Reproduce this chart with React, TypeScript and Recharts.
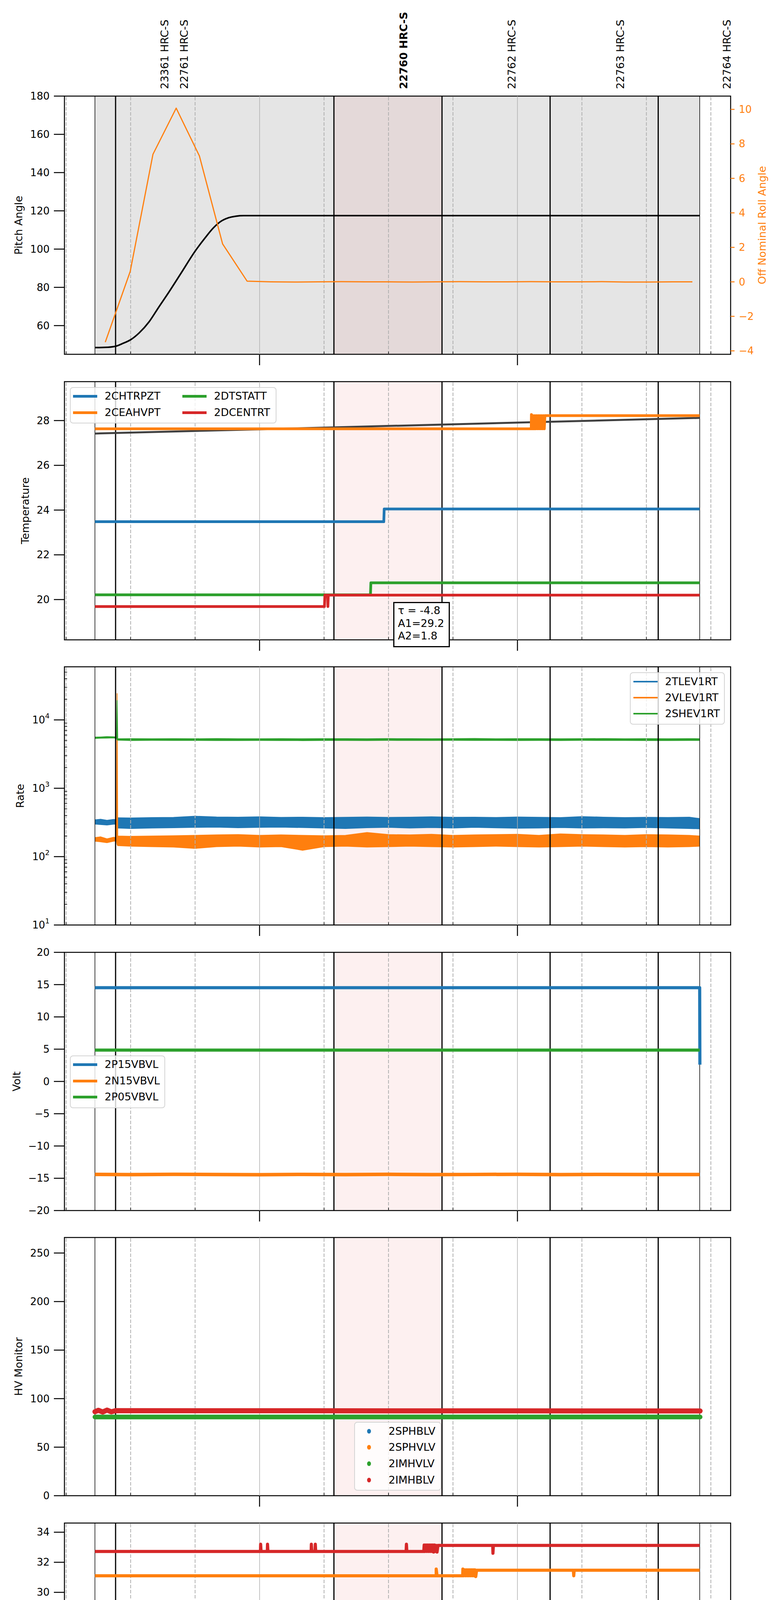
import React from 'react'
import {
  ComposedChart,
  Line,
  Area,
  XAxis,
  YAxis,
  ReferenceArea,
  ReferenceLine
} from 'recharts'

const FONT = '"DejaVu Sans", sans-serif'
const BLUE = '#1f77b4'
const ORANGE = '#ff7f0e'
const GREEN = '#2ca02c'
const RED = '#d62728'

type Pt = { t: number; v: number }
const pts = (rows: number[][]): Pt[] => rows.map(([t, v]) => ({ t, v }))

// time axis: minutes after 19:00 on 2020-11-03
const timeDomain = [14.6, 169.6]
const timeTicks = [15, 30, 45, 60, 75, 90, 105, 120, 135, 150, 165]
const spanEdges = [21.7, 162.4]
const obsBoundaries = [26.5, 77.3, 102.45, 127.6, 152.75]
const highlightSpan = [77.3, 102.45]

const obsLabels = [
  { t: 37.86, id: '23361 HRC-S', bold: false },
  { t: 42.49, id: '22761 HRC-S', bold: false },
  { t: 93.47, id: '22760 HRC-S', bold: true },
  { t: 118.63, id: '22762 HRC-S', bold: false },
  { t: 143.89, id: '22763 HRC-S', bold: false },
  { t: 168.78, id: '22764 HRC-S', bold: false }
]

// panel 1: pitch / roll
const pitchAngle = pts([
  [21.7, 48.5], [24, 48.6], [26.5, 49.2], [28, 50.5], [30, 52.6], [32, 56.2], [34.3, 62],
  [36.5, 69.5], [38.9, 77.5], [41.7, 87.3], [45, 98.9], [47.2, 105.5], [49.3, 111.2],
  [51, 114.5], [52.8, 116.4], [54.5, 117.2], [56.3, 117.5], [60, 117.5], [162.4, 117.5]
])
const rollAngle = pts([
  [24.1, -3.5], [29.9, 0.6], [35.2, 7.4], [40.6, 10.07], [46.0, 7.3], [51.4, 2.2], [57.1, 0.04],
  [62.6, 0.0], [68.1, -0.01], [73.6, 0.0], [79.1, 0.01], [84.6, 0.0], [90.1, 0.0], [95.6, -0.01],
  [101.1, 0.0], [106.6, 0.01], [112.1, 0.0], [117.6, 0.0], [123.1, 0.01], [128.6, 0.0],
  [134.1, 0.0], [139.6, 0.01], [145.1, -0.01], [150.6, -0.01], [156.1, 0.0], [160.7, 0.0]
])

// panel 2: temperature
const tempTrend = pts([[21.7, 27.42], [162.4, 28.12]])
const CHTRPZT = pts([[21.7, 23.48], [88.9, 23.48], [89.0, 24.05], [162.4, 24.05]])
const CEAHVPT = pts([
  [21.7, 27.63], [123.2, 27.63], [123.25, 28.27], [123.35, 27.63], [123.6, 27.63], [123.65, 28.22],
  [123.75, 27.63], [124.0, 27.63], [124.05, 28.22], [124.25, 27.63], [124.45, 28.22], [124.65, 27.63],
  [124.85, 28.22], [125.05, 27.63], [125.25, 28.22], [125.45, 27.63], [125.65, 28.22], [125.85, 27.63],
  [126.05, 28.22], [126.25, 27.63], [126.4, 28.22], [162.4, 28.22]
])
const DTSTATT = pts([[21.7, 20.21], [85.8, 20.21], [85.9, 20.75], [162.4, 20.75]])
const DCENTRT = pts([
  [21.7, 19.69], [75.1, 19.69], [75.2, 20.2], [75.8, 20.2], [75.9, 19.69], [76.0, 20.2], [162.4, 20.2]
])

// panel 3: rates (noise envelope low / high)
const rateTimes = [
  21.7, 23, 24.5, 26, 26.7, 26.85, 27.0, 30, 35, 40, 45, 50, 55, 60, 65, 70, 75, 80,
  85, 90, 95, 100, 105, 110, 115, 120, 125, 130, 135, 140, 145, 150, 155, 160, 162.4
]
const tlevLo = [300, 295, 290, 298, 300, 262, 262, 258, 262, 265, 268, 270, 265, 268, 270, 266, 262, 258, 265, 268, 262, 266, 262, 268, 264, 260, 262, 266, 262, 264, 262, 266, 262, 258, 255]
const tlevHi = [345, 352, 340, 350, 348, 365, 370, 368, 372, 375, 390, 380, 378, 382, 375, 378, 372, 376, 380, 375, 378, 382, 376, 378, 374, 380, 376, 372, 385, 378, 372, 376, 374, 378, 360]
const vlevLo = [168, 165, 160, 168, 170, 150, 145, 142, 140, 138, 132, 140, 142, 138, 140, 124, 140, 142, 138, 140, 142, 140, 138, 140, 142, 140, 138, 140, 142, 140, 138, 140, 138, 140, 142]
const vlevHi = [190, 195, 182, 192, 190, 24500, 200, 198, 200, 202, 205, 208, 210, 205, 208, 205, 202, 205, 225, 210, 208, 212, 205, 208, 210, 212, 205, 215, 210, 208, 205, 210, 208, 205, 200]
const shevLo = [5350, 5400, 5420, 5450, 5400, 5100, 5050, 5000, 5020, 5000, 5010, 4990, 5000, 5010, 5000, 4980, 5000, 5010, 5000, 5020, 5000, 5010, 5030, 5000, 5010, 5000, 5010, 5000, 5020, 5000, 5010, 5000, 5000, 5010, 5000]
const shevHi = [5600, 5620, 5700, 5650, 5600, 19400, 5300, 5320, 5300, 5310, 5300, 5330, 5300, 5290, 5310, 5300, 5320, 5310, 5300, 5330, 5310, 5300, 5320, 5350, 5300, 5310, 5320, 5300, 5310, 5330, 5300, 5310, 5300, 5320, 5300]
const rateRows = rateTimes.map((t, i) => ({
  t,
  tlev: [tlevLo[i], tlevHi[i]],
  vlev: [vlevLo[i], vlevHi[i]],
  shev: [shevLo[i], shevHi[i]]
}))
const logTicks = [
  10, 20, 30, 40, 50, 60, 70, 80, 90,
  100, 200, 300, 400, 500, 600, 700, 800, 900,
  1000, 2000, 3000, 4000, 5000, 6000, 7000, 8000, 9000,
  10000, 20000, 30000, 40000, 50000
]

// panel 4: voltages
const P15VBVL = pts([[21.7, 14.52], [162.4, 14.52], [162.45, 2.6]])
const N15VBVL = pts([
  [21.7, -14.4], [30, -14.44], [40, -14.38], [50, -14.42], [60, -14.45], [70, -14.4], [80, -14.43],
  [90, -14.39], [100, -14.44], [110, -14.41], [120, -14.38], [130, -14.43], [140, -14.4],
  [150, -14.42], [162.4, -14.41]
])
const P05VBVL = pts([[21.7, 4.86], [162.4, 4.86]])

// panel 5: HV monitors
const SPHBLV: Pt[] = []
const SPHVLV: Pt[] = []
const IMHVLV = pts([[21.7, 81.1], [162.5, 81.1]])
const IMHBLV = pts([[21.7, 86.5], [22.5, 88.0], [23.5, 86.2], [24.5, 88.2], [25.5, 86.4], [26.5, 87.6], [162.5, 87.3]])

// panel 6: detector temps
const SPINATM = pts([
  [21.7, 18.92], [84.1, 18.92], [84.1, 19.65], [84.2, 18.92], [85.25, 18.92], [85.3, 19.6],
  [85.5, 18.9], [85.7, 19.6], [85.9, 18.9], [86.1, 19.6], [86.3, 18.9], [86.5, 19.6], [86.7, 18.9],
  [86.9, 19.6], [87.1, 18.9], [87.3, 19.6], [87.5, 18.9], [87.7, 19.6], [87.9, 18.9], [88.1, 19.6],
  [88.3, 18.9], [88.5, 19.6], [162.4, 19.6]
])
const SPHVATM = pts([
  [21.7, 31.1], [101.1, 31.1], [101.1, 31.55], [101.3, 31.1], [107.26, 31.1], [107.3, 31.55],
  [107.5, 31.1], [107.7, 31.5], [107.9, 31.1], [108.1, 31.5], [108.3, 31.1], [108.5, 31.5],
  [108.7, 31.1], [108.9, 31.5], [109.1, 31.1], [109.3, 31.5], [109.5, 31.1], [109.7, 31.5],
  [109.9, 31.1], [110.1, 31.5], [110.3, 31.05], [110.5, 31.47],
  [133.0, 31.47], [133.1, 31.1], [133.2, 31.47], [162.4, 31.47]
])
const IMINATM = pts([
  [21.7, 20.28], [120.8, 20.28], [120.9, 20.98], [121.1, 20.28], [121.3, 20.96], [121.5, 20.28],
  [121.7, 20.96], [121.9, 20.28], [122.1, 20.96], [122.3, 20.28], [122.5, 20.96], [122.7, 20.28],
  [122.9, 20.96], [123.1, 20.28], [123.3, 20.96], [123.5, 20.28], [123.7, 20.96], [123.9, 20.28],
  [124.1, 20.96], [124.3, 20.28], [124.5, 20.96], [124.7, 20.25], [124.9, 20.96], [125.05, 20.3],
  [125.2, 20.96], [162.4, 20.96]
])
const IMHVATM = pts([
  [21.7, 32.72], [60.2, 32.72], [60.25, 33.2], [60.35, 32.72], [61.8, 32.72], [61.85, 33.2],
  [61.95, 32.72], [72.0, 32.72], [72.05, 33.2], [72.15, 32.72], [72.9, 32.72], [72.97, 33.2],
  [73.07, 32.72], [94.1, 32.72], [94.17, 33.2], [94.27, 32.72], [98.2, 32.72], [98.3, 33.15],
  [98.5, 32.72], [98.7, 33.15], [98.9, 32.72], [99.1, 33.15], [99.3, 32.72], [99.5, 33.15],
  [99.7, 32.72], [99.9, 33.15], [100.1, 32.72], [100.3, 33.15], [100.5, 32.68], [100.7, 33.15],
  [100.9, 32.72], [101.1, 33.12], [101.3, 32.68], [101.5, 33.12],
  [114.25, 33.12], [114.3, 32.6], [114.4, 33.12], [162.4, 33.12]
])

// panel 7: FEA temps
const FHTRMZT = pts([[21.7, 22.9], [145.7, 22.9], [146.4, 23.46], [162.4, 23.46]])
const FRADPYT = pts([
  [21.7, 18.14], [31.3, 18.14], [31.5, 17.65], [75.9, 17.65], [76.1, 18.15], [137.0, 18.15],
  [137.2, 18.65], [137.9, 18.65], [138.1, 18.1], [138.3, 18.65], [139.3, 18.65], [139.5, 18.1],
  [139.7, 18.65], [162.4, 18.65]
])
const FEPRATM = pts([[21.7, 24.62], [162.4, 24.62]])
const FE00ATM = pts([
  [21.7, 22.65],
  [27.8, 22.65], [27.8, 22.29], [27.9, 22.65],
  [31.4, 22.65], [31.4, 22.29], [31.5, 22.65],
  [44.0, 22.65], [44.0, 22.29], [44.1, 22.65],
  [44.7, 22.65], [44.7, 23.0], [44.8, 22.65],
  [45.6, 22.65], [45.6, 23.0], [45.7, 22.65],
  [54.4, 22.65], [54.4, 23.66], [54.5, 22.65],
  [60.9, 22.65], [60.9, 24.0], [61.0, 22.65],
  [64.2, 22.65], [64.2, 23.0], [64.3, 22.65],
  [66.7, 22.65], [66.7, 21.35], [66.8, 22.65],
  [67.9, 22.65], [67.9, 23.33], [68.0, 22.65],
  [95.1, 22.65], [95.1, 23.0], [95.2, 22.65],
  [96.7, 22.65], [96.7, 24.0], [96.8, 22.65],
  [99.7, 22.65], [99.7, 23.33], [99.8, 22.65],
  [105.9, 22.65], [105.9, 24.0], [106.0, 22.65],
  [107.95, 22.65], [107.95, 23.65], [108.05, 22.65],
  [113.05, 22.65], [113.1, 22.99], [113.3, 22.62], [113.5, 22.97], [113.7, 22.62], [113.9, 22.97],
  [114.1, 22.62], [114.3, 22.97], [114.5, 22.62], [114.7, 22.97], [114.9, 22.62], [115.1, 22.97],
  [115.3, 22.62], [115.5, 22.97], [115.7, 22.62], [115.9, 22.97], [116.1, 22.62], [116.3, 22.97],
  [116.5, 22.6], [116.7, 22.97],
  [129.0, 22.97], [129.0, 22.6], [129.1, 22.97],
  [130.1, 22.97], [130.1, 23.65], [130.2, 22.97],
  [137.1, 22.97], [137.1, 22.6], [137.2, 22.97],
  [145.1, 22.97], [145.1, 21.66], [145.2, 22.97],
  [145.7, 22.97], [145.7, 22.6], [145.8, 22.97],
  [150.2, 22.97], [150.2, 22.6], [150.3, 22.97],
  [151.2, 22.97], [151.2, 22.28], [151.3, 22.97],
  [162.4, 22.97]
])

// layout
const PLOT_H = 661
const panelTops = [246, 977, 1707, 2438, 3168, 3899, 4629]
const yTitles = ['Pitch Angle', 'Temperature', 'Rate', 'Volt', 'HV Monitor', 'Detector Temp', 'FEA Temp']
const yTitleX = [47, 64, 51, 42, 47, 64, 64]

const fmt = (v: number) => (v < 0 ? '\u2212' + Math.abs(v) : String(v))

function TimeTick(props: any) {
  const { x, y, payload, labels } = props
  const v = payload.value
  const hour = v % 60 === 0
  return (
    <g>
      {hour ? (
        <line x1={x} x2={x} y1={y} y2={y + 28} stroke="#000" strokeWidth={2.5} />
      ) : (
        <line x1={x} x2={x} y1={y} y2={y - 7} stroke="#000" strokeWidth={1.5} />
      )}
      {labels && hour && (
        <text x={x} y={y + 51} textAnchor="middle" dominantBaseline="central" fontSize={27} fontFamily={FONT} fill="#000">
          {19 + v / 60}h
        </text>
      )}
      {labels && !hour && (
        <text x={x} y={y + 16} textAnchor="middle" dominantBaseline="central" fontSize={18} fontFamily={FONT} fill="#000">
          {v % 60}
        </text>
      )}
    </g>
  )
}

function LeftTick(props: any) {
  const { x, y, payload, log } = props
  const v = payload.value
  if (log) {
    const e = Math.log10(v)
    const major = Math.abs(e - Math.round(e)) < 1e-9
    if (!major) return <line x1={x} x2={x + 7} y1={y} y2={y} stroke="#000" strokeWidth={1.5} />
    return (
      <g>
        <line x1={x - 27} x2={x} y1={y} y2={y} stroke="#000" strokeWidth={2.5} />
        <text x={x - 38} y={y} textAnchor="end" dominantBaseline="central" fontSize={26} fontFamily={FONT} fill="#000">
          10<tspan dy={-11} fontSize={18}>{Math.round(e)}</tspan>
        </text>
      </g>
    )
  }
  return (
    <g>
      <line x1={x - 27} x2={x} y1={y} y2={y} stroke="#000" strokeWidth={2.5} />
      <text x={x - 38} y={y} textAnchor="end" dominantBaseline="central" fontSize={26} fontFamily={FONT} fill="#000">
        {fmt(v)}
      </text>
    </g>
  )
}

function RightTick(props: any) {
  const { x, y, payload } = props
  return (
    <g>
      <line x1={x} x2={x + 10} y1={y} y2={y} stroke={ORANGE} strokeWidth={2.5} />
      <text x={x + 21} y={y} textAnchor="start" dominantBaseline="central" fontSize={26} fontFamily={FONT} fill={ORANGE}>
        {fmt(payload.value)}
      </text>
    </g>
  )
}

function ObsLabel(props: any) {
  const { viewBox, text, bold } = props
  if (!viewBox) return null
  return (
    <text
      transform={`translate(${viewBox.x},${viewBox.y - 18}) rotate(-90)`}
      textAnchor="start"
      dominantBaseline="central"
      fontSize={27}
      fontWeight={bold ? 'bold' : 'normal'}
      fontFamily={FONT}
      fill="#000"
    >
      {text}
    </text>
  )
}

function backdrop(first: boolean) {
  const els: React.ReactNode[] = []
  if (first) {
    els.push(<ReferenceArea key="gray" x1={spanEdges[0]} x2={spanEdges[1]} fill="#e5e5e5" fillOpacity={1} stroke="none" />)
  }
  els.push(
    <ReferenceArea key="pink" x1={highlightSpan[0]} x2={highlightSpan[1]} fill={first ? '#e4d9d9' : '#fdf0f0'} fillOpacity={1} stroke="none" />
  )
  timeTicks.forEach((t) => {
    const hour = t % 60 === 0
    els.push(
      <ReferenceLine key={'g' + t} x={t} stroke="#b0b0b0" strokeWidth={hour ? 1.5 : 2} strokeDasharray={hour ? undefined : '9 4'} />
    )
  })
  spanEdges.forEach((t) => els.push(<ReferenceLine key={'e' + t} x={t} stroke="#000" strokeWidth={1.5} />))
  obsBoundaries.forEach((t) => els.push(<ReferenceLine key={'b' + t} x={t} stroke="#000" strokeWidth={3} />))
  return els
}

function Panel(props: {
  index: number
  yDomain: number[]
  yTicks: number[]
  log?: boolean
  data?: any[]
  rightAxis?: React.ReactNode
  extra?: React.ReactNode
  children: React.ReactNode
}) {
  const { index, yDomain, yTicks, log, data, rightAxis, extra, children } = props
  const top = panelTops[index]
  const mt = index === 0 ? top : 20
  return (
    <div style={{ position: 'absolute', left: 0, top: top - mt }}>
      <ComposedChart
        width={2000}
        height={mt + PLOT_H + 90}
        data={data}
        margin={{ top: mt, right: rightAxis ? 0 : 129, bottom: 0, left: 0 }}
      >
        <XAxis
          dataKey="t"
          type="number"
          domain={timeDomain}
          ticks={timeTicks}
          interval={0}
          allowDataOverflow
          axisLine={false}
          tickLine={false}
          tickSize={0}
          tickMargin={0}
          height={90}
          tick={(p: any) => <TimeTick {...p} labels={index === 6} />}
        />
        <YAxis
          width={165}
          domain={yDomain}
          ticks={yTicks}
          interval={0}
          scale={log ? 'log' : 'auto'}
          type="number"
          allowDataOverflow
          axisLine={false}
          tickLine={false}
          tickSize={0}
          tickMargin={0}
          tick={(p: any) => <LeftTick {...p} log={log} />}
        />
        {rightAxis}
        {backdrop(index === 0)}
        {extra}
        {children}
        <ReferenceArea
          x1={timeDomain[0]}
          x2={timeDomain[1]}
          y1={yDomain[0]}
          y2={yDomain[1]}
          fill="none"
          fillOpacity={0}
          stroke="#000"
          strokeWidth={2.5}
        />
      </ComposedChart>
    </div>
  )
}

type LegendItem = { name: string; color: string }
function LegendBox(props: {
  frame: number[]
  cols: { hx: number; lx: number }[]
  rowsY: number[]
  items: LegendItem[]
  handleW?: number
  handleH?: number
  dot?: boolean
}) {
  const { frame, cols, rowsY, items, handleW = 62, handleH = 7, dot } = props
  const [l, t, w, h] = frame
  const perCol = Math.ceil(items.length / cols.length)
  return (
    <div
      style={{
        position: 'absolute',
        left: l,
        top: t,
        width: w,
        height: h,
        boxSizing: 'border-box',
        border: '2px solid #d4d4d4',
        borderRadius: 8,
        background: 'rgba(255,255,255,0.8)'
      }}
    >
      {items.map((it, i) => {
        const c = cols[Math.floor(i / perCol)]
        const cy = rowsY[i % perCol] - t - 2
        return (
          <React.Fragment key={it.name}>
            {dot ? (
              <div style={{ position: 'absolute', left: c.hx - l - 7, top: cy - 6, width: 10, height: 12, borderRadius: '50%', background: it.color }} />
            ) : (
              <div style={{ position: 'absolute', left: c.hx - l - 2, top: cy - handleH / 2, width: handleW, height: handleH, background: it.color }} />
            )}
            <div
              style={{
                position: 'absolute',
                left: c.lx - l - 2,
                top: cy - 17,
                height: 34,
                lineHeight: '34px',
                fontSize: 27,
                fontFamily: FONT,
                whiteSpace: 'nowrap',
                color: '#000'
              }}
            >
              {it.name}
            </div>
          </React.Fragment>
        )
      })}
    </div>
  )
}

const lineProps = { type: 'linear' as const, dot: false, activeDot: false, isAnimationActive: false, strokeLinejoin: 'round' as const }

export default function App() {
  return (
    <div style={{ position: 'absolute', left: 0, top: 0, width: 2000, height: 5400, background: '#fff', overflow: 'hidden' }}>
      {/* 1: pitch and roll */}
      <Panel
        index={0}
        yDomain={[45, 180]}
        yTicks={[60, 80, 100, 120, 140, 160, 180]}
        rightAxis={
          <YAxis
            yAxisId="right"
            orientation="right"
            width={129}
            domain={[-4.2, 10.77]}
            ticks={[-4, -2, 0, 2, 4, 6, 8, 10]}
            interval={0}
            type="number"
            allowDataOverflow
            axisLine={false}
            tickLine={false}
            tickSize={0}
            tickMargin={0}
            tick={(p: any) => <RightTick {...p} />}
          />
        }
        extra={obsLabels.map((o) => (
          <ReferenceLine key={o.id} x={o.t} stroke="none" strokeOpacity={0} label={<ObsLabel text={o.id} bold={o.bold} />} />
        ))}
      >
        <Line {...lineProps} type="monotone" data={pitchAngle} dataKey="v" stroke="#000" strokeWidth={4} />
        <Line {...lineProps} yAxisId="right" data={rollAngle} dataKey="v" stroke={ORANGE} strokeWidth={3} />
      </Panel>

      {/* 2: temperature */}
      <Panel index={1} yDomain={[18.2, 29.74]} yTicks={[20, 22, 24, 26, 28]}>
        <Line {...lineProps} data={tempTrend} dataKey="v" stroke="#404040" strokeWidth={5} />
        <Line {...lineProps} data={CHTRPZT} dataKey="v" stroke={BLUE} strokeWidth={7} />
        <Line {...lineProps} data={CEAHVPT} dataKey="v" stroke={ORANGE} strokeWidth={7} />
        <Line {...lineProps} data={DTSTATT} dataKey="v" stroke={GREEN} strokeWidth={7} />
        <Line {...lineProps} data={DCENTRT} dataKey="v" stroke={RED} strokeWidth={7} />
      </Panel>

      {/* 3: rates */}
      <Panel index={2} yDomain={[10, 59800]} yTicks={logTicks} log data={rateRows}>
        <Area type="linear" dataKey="tlev" stroke={BLUE} strokeWidth={2} fill={BLUE} fillOpacity={1} isAnimationActive={false} activeDot={false} />
        <Area type="linear" dataKey="vlev" stroke={ORANGE} strokeWidth={2} fill={ORANGE} fillOpacity={1} isAnimationActive={false} activeDot={false} />
        <Area type="linear" dataKey="shev" stroke={GREEN} strokeWidth={2} fill={GREEN} fillOpacity={1} isAnimationActive={false} activeDot={false} />
      </Panel>

      {/* 4: volts */}
      <Panel index={3} yDomain={[-20, 20]} yTicks={[-20, -15, -10, -5, 0, 5, 10, 15, 20]}>
        <Line {...lineProps} data={P15VBVL} dataKey="v" stroke={BLUE} strokeWidth={8} />
        <Line {...lineProps} data={N15VBVL} dataKey="v" stroke={ORANGE} strokeWidth={9} />
        <Line {...lineProps} data={P05VBVL} dataKey="v" stroke={GREEN} strokeWidth={8} />
      </Panel>

      {/* 5: HV monitor */}
      <Panel index={4} yDomain={[0, 266]} yTicks={[0, 50, 100, 150, 200, 250]}>
        <Line {...lineProps} data={SPHBLV} dataKey="v" stroke={BLUE} strokeWidth={12} strokeLinecap="round" />
        <Line {...lineProps} data={SPHVLV} dataKey="v" stroke={ORANGE} strokeWidth={12} strokeLinecap="round" />
        <Line {...lineProps} data={IMHVLV} dataKey="v" stroke={GREEN} strokeWidth={12} strokeLinecap="round" />
        <Line {...lineProps} data={IMHBLV} dataKey="v" stroke={RED} strokeWidth={13} strokeLinecap="round" />
      </Panel>

      {/* 6: detector temps */}
      <Panel index={5} yDomain={[17.43, 34.61]} yTicks={[18, 20, 22, 24, 26, 28, 30, 32, 34]}>
        <Line {...lineProps} data={SPINATM} dataKey="v" stroke={BLUE} strokeWidth={8} />
        <Line {...lineProps} data={SPHVATM} dataKey="v" stroke={ORANGE} strokeWidth={8} />
        <Line {...lineProps} data={IMINATM} dataKey="v" stroke={GREEN} strokeWidth={8} />
        <Line {...lineProps} data={IMHVATM} dataKey="v" stroke={RED} strokeWidth={8} />
      </Panel>

      {/* 7: FEA temps */}
      <Panel index={6} yDomain={[16.16, 26.12]} yTicks={[18, 20, 22, 24, 26]}>
        <Line {...lineProps} data={FHTRMZT} dataKey="v" stroke={BLUE} strokeWidth={8} />
        <Line {...lineProps} data={FRADPYT} dataKey="v" stroke={ORANGE} strokeWidth={8} />
        <Line {...lineProps} data={FEPRATM} dataKey="v" stroke={GREEN} strokeWidth={8} />
        <Line {...lineProps} data={FE00ATM} dataKey="v" stroke={RED} strokeWidth={7} />
      </Panel>

      {/* legends */}
      <LegendBox
        frame={[179, 991, 529, 93]}
        cols={[{ hx: 187, lx: 268 }, { hx: 467, lx: 548 }]}
        rowsY={[1014, 1056]}
        items={[
          { name: '2CHTRPZT', color: BLUE },
          { name: '2CEAHVPT', color: ORANGE },
          { name: '2DTSTATT', color: GREEN },
          { name: '2DCENTRT', color: RED }
        ]}
      />
      <LegendBox
        frame={[1613, 1721, 243, 134]}
        cols={[{ hx: 1622, lx: 1703 }]}
        rowsY={[1744.5, 1785.7, 1826.9]}
        handleH={4}
        items={[
          { name: '2TLEV1RT', color: BLUE },
          { name: '2VLEV1RT', color: ORANGE },
          { name: '2SHEV1RT', color: GREEN }
        ]}
      />
      <LegendBox
        frame={[179, 2702, 244, 135]}
        cols={[{ hx: 187, lx: 268 }]}
        rowsY={[2725, 2767, 2808]}
        items={[
          { name: '2P15VBVL', color: BLUE },
          { name: '2N15VBVL', color: ORANGE },
          { name: '2P05VBVL', color: GREEN }
        ]}
      />
      <LegendBox
        frame={[907, 3640, 223, 176]}
        cols={[{ hx: 945, lx: 995 }]}
        rowsY={[3663.5, 3704.7, 3747, 3788.6]}
        dot
        items={[
          { name: '2SPHBLV', color: BLUE },
          { name: '2SPHVLV', color: ORANGE },
          { name: '2IMHVLV', color: GREEN },
          { name: '2IMHBLV', color: RED }
        ]}
      />
      <LegendBox
        frame={[1611, 4142, 245, 176]}
        cols={[{ hx: 1617, lx: 1696 }]}
        rowsY={[4164, 4207, 4249, 4290]}
        items={[
          { name: '2SPINATM', color: BLUE },
          { name: '2SPHVATM', color: ORANGE },
          { name: '2IMINATM', color: GREEN },
          { name: '2IMHVATM', color: RED }
        ]}
      />
      <LegendBox
        frame={[893, 4873, 249, 176]}
        cols={[{ hx: 900, lx: 982 }]}
        rowsY={[4895, 4937, 4978.6, 5021]}
        items={[
          { name: '2FHTRMZT', color: BLUE },
          { name: '2FRADPYT', color: ORANGE },
          { name: '2FEPRATM', color: GREEN },
          { name: '2FE00ATM', color: RED }
        ]}
      />

      {/* fit annotation */}
      <div
        style={{
          position: 'absolute',
          left: 1007,
          top: 1541,
          width: 145,
          height: 116,
          boxSizing: 'border-box',
          border: '3px solid #000',
          background: '#fff',
          paddingLeft: 9,
          paddingTop: 3,
          fontSize: 27,
          lineHeight: '32.5px',
          fontFamily: FONT,
          whiteSpace: 'nowrap',
          color: '#000'
        }}
      >
        <div>{'\u03c4 = -4.8'}</div>
        <div>A1=29.2</div>
        <div>A2=1.8</div>
      </div>

      {/* axis titles */}
      <svg width={2000} height={5400} style={{ position: 'absolute', left: 0, top: 0, pointerEvents: 'none' }}>
        {yTitles.map((title, i) => {
          const cy = panelTops[i] + PLOT_H / 2
          return (
            <text
              key={title}
              transform={`translate(${yTitleX[i]},${cy}) rotate(-90)`}
              textAnchor="middle"
              dominantBaseline="central"
              fontSize={27}
              fontFamily={FONT}
              fill="#000"
            >
              {title}
            </text>
          )
        })}
        <text
          transform={`translate(1951,${panelTops[0] + PLOT_H / 2}) rotate(-90)`}
          textAnchor="middle"
          dominantBaseline="central"
          fontSize={27}
          fontFamily={FONT}
          fill={ORANGE}
        >
          Off Nominal Roll Angle
        </text>
        <text x={1018} y={5378} textAnchor="middle" dominantBaseline="central" fontSize={33} fontFamily={FONT} fill="#000">
          2020-11-03 (308)
        </text>
      </svg>
    </div>
  )
}
